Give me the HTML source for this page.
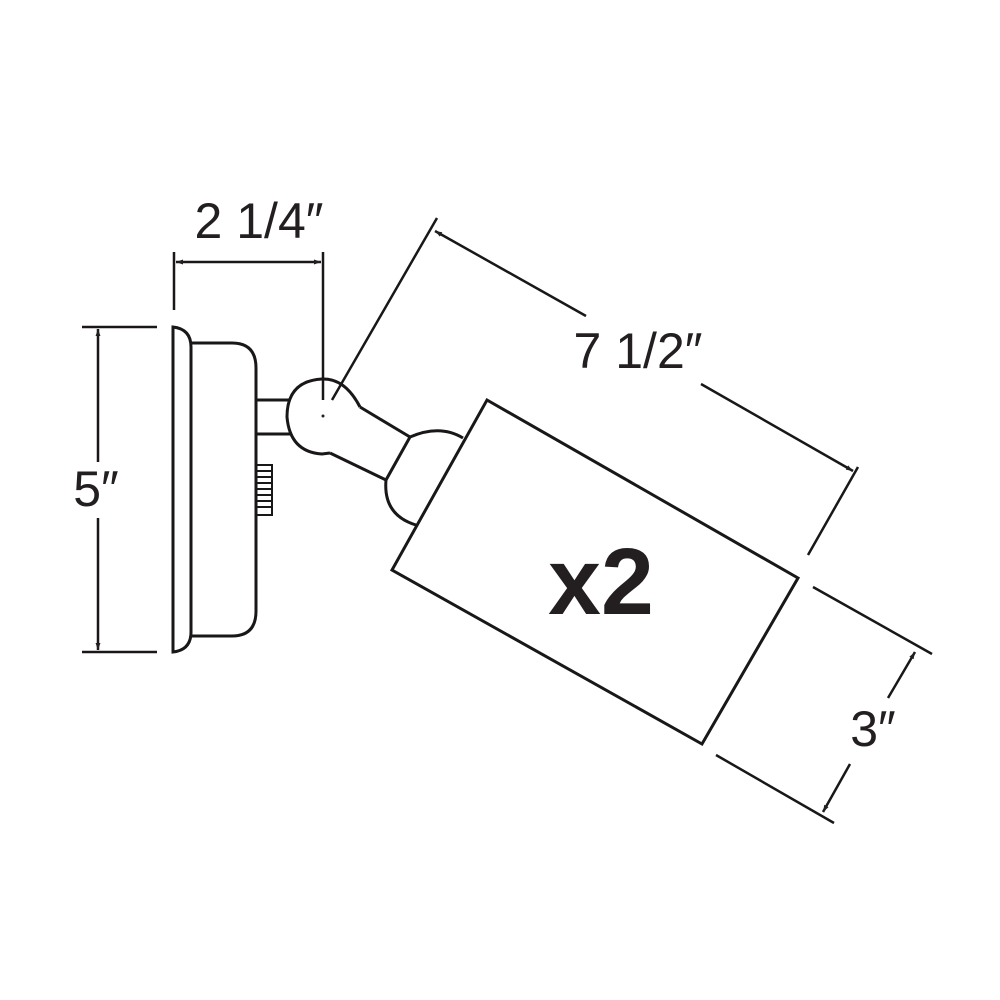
<!DOCTYPE html>
<html><head><meta charset="utf-8"><style>
html,body{margin:0;padding:0;background:#fff;}
svg{display:block}
text{font-family:"Liberation Sans",sans-serif;fill:#231f20}
</style></head><body>
<svg width="1000" height="1000" viewBox="0 0 1000 1000" xmlns="http://www.w3.org/2000/svg">
<defs>
<marker id="a" viewBox="0 0 10 10" refX="10" refY="5" markerWidth="7" markerHeight="7" orient="auto-start-reverse" markerUnits="userSpaceOnUse"><path d="M0,1.5 L10,5 L0,8.5 z" fill="#231f20"/></marker>
</defs>
<g fill="none" stroke="#1a1718" stroke-width="3" stroke-linecap="butt">
<path d="M173,327 L173,652 Q191,650 191,632 L191,347 Q191,329 173,327 Z" fill="#fff"/>
<path d="M191,343 L232,343 Q256,343 256,368 L256,611 Q256,636 232,636 L191,636"/>
<path d="M256,400 L290,400 M256,434 L292,434"/>
<rect x="256" y="465" width="16" height="50" stroke-width="2"/>
<path d="M257,471 H271 M257,477 H271 M257,483 H271 M257,489 H271 M257,495 H271 M257,501 H271 M257,507 H271" stroke-width="2"/>
<path d="M360,407 L410,437 M330,453 L386,480" />
<path d="M360,407 Q345,378 322,379 Q287,381 287,417 Q290,452 322,454 L330,453" fill="none"/>
<path d="M410,437 Q440,424 463,438 M410,437 L386,480 Q383,515 416,525" />
<path d="M487,400 L798,578 L702,744 L392,570 Z"/>
</g>
<g fill="none" stroke="#1a1718" stroke-width="2.5">
<path d="M174,252 V310 M323,252 V400"/>
<path d="M176,262 H321" marker-start="url(#a)" marker-end="url(#a)"/>
<path d="M82,327 H157 M82,652 H157"/>
<path d="M98,329 V462" marker-start="url(#a)"/>
<path d="M98,518 V650" marker-end="url(#a)"/>
<path d="M437,218 L332,400 M858,467 L808,555"/>
<path d="M435,231 L586,316" marker-start="url(#a)"/>
<path d="M701,384 L853,471" marker-end="url(#a)"/>
<path d="M813,587 L932,654 M716,755 L834,823"/>
<path d="M915,652 L888,698" marker-start="url(#a)"/>
<path d="M850,764 L823,812" marker-end="url(#a)"/>
</g>
<text x="259" y="238" font-size="50" text-anchor="middle">2 1/4″</text>
<text x="96" y="506" font-size="50" text-anchor="middle">5″</text>
<text x="638" y="368" font-size="50" text-anchor="middle">7 1/2″</text>
<text x="873" y="746" font-size="50" text-anchor="middle">3″</text>
<text x="601" y="614" font-size="95" font-weight="bold" text-anchor="middle">x2</text>
<circle cx="323" cy="416" r="1.5" fill="#231f20"/>
</svg>
</body></html>
